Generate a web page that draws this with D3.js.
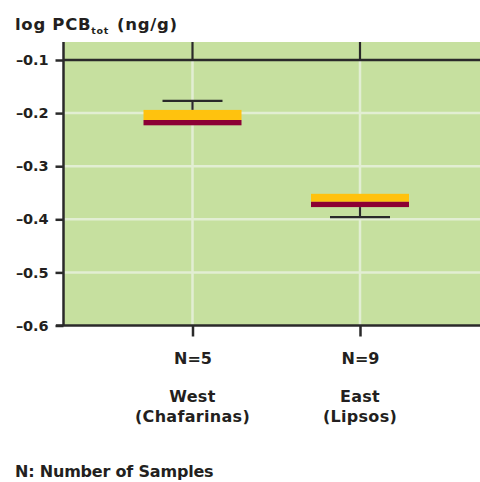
<!DOCTYPE html>
<html>
<head>
<meta charset="utf-8">
<script src="https://cdn.jsdelivr.net/npm/d3@7"></script>
<style>
  html, body { margin: 0; padding: 0; background: #fff; }
  svg { display: block; }
  text { font-family: "DejaVu Sans", sans-serif; font-weight: bold; fill: #231f20; }
</style>
</head>
<body>
<svg id="chart" width="480" height="482"></svg>
<script>
// ---- data ----
const categories = ["West", "East"];
const sampleLabels = ["N=5", "N=9"];
const regionLabels = ["(Chafarinas)", "(Lipsos)"];
const whiskerEnd = [-0.177, -0.396];   // end of the single whisker
const boxUpper   = [-0.194, -0.352];   // top of yellow part
const boxMedian  = [-0.213, -0.367];   // yellow/red boundary
const boxLower   = [-0.223, -0.377];   // bottom of red part
const yTicks = [-0.1, -0.2, -0.3, -0.4, -0.5, -0.6];
const yTickLabels = ["–0.1", "–0.2", "–0.3", "–0.4", "–0.5", "–0.6"];

(function () {
const svg = d3.select("#chart");
const pLeft = 64, pRight = 480, pTop = 42, pBottom = 325.5;
const FONT = "'DejaVu Sans', sans-serif";

const y = d3.scaleLinear().domain([-0.6, -0.1]).range([pBottom, 60]);
const x = d3.scalePoint().domain(categories).range([192.5, 360]);
const boxW = 98, whiskW = 60;

const green = "#c6e09f", grid = "#e2eed3", dark = "#2a2a2a";
const yellow = "#ffc20e", red = "#8c0034";

// background
svg.append("rect").attr("x", pLeft).attr("y", pTop)
  .attr("width", pRight - pLeft).attr("height", pBottom - pTop).attr("fill", green);

// white gridlines
svg.append("g").selectAll("line").data(yTicks.filter(t => t > -0.6 && t < -0.1)).join("line")
  .attr("x1", pLeft).attr("x2", pRight).attr("y1", d => y(d)).attr("y2", d => y(d))
  .attr("stroke", grid).attr("stroke-width", 2.5);
svg.append("g").selectAll("line").data(categories).join("line")
  .attr("x1", d => x(d)).attr("x2", d => x(d)).attr("y1", y(-0.1)).attr("y2", pBottom)
  .attr("stroke", grid).attr("stroke-width", 2.5);

// dark top stubs above -0.1
svg.append("g").selectAll("line").data(categories).join("line")
  .attr("x1", d => x(d)).attr("x2", d => x(d)).attr("y1", pTop).attr("y2", y(-0.1))
  .attr("stroke", dark).attr("stroke-width", 2.2);

// -0.1 dark line across
svg.append("line").attr("x1", pLeft).attr("x2", pRight).attr("y1", y(-0.1)).attr("y2", y(-0.1))
  .attr("stroke", dark).attr("stroke-width", 2.5);

// Y axis
const yAxis = d3.axisLeft(y).tickValues(yTicks).tickFormat((d, i) => yTickLabels[i])
  .tickSize(8).tickPadding(7);
const gy = svg.append("g").attr("transform", `translate(${pLeft - 0.5},0)`).call(yAxis);
gy.select(".domain").attr("d", `M0,${pTop}V${pBottom}`).attr("stroke", dark).attr("stroke-width", 2.5);
gy.selectAll(".tick line").attr("stroke", dark).attr("stroke-width", 2.5);
gy.selectAll(".tick text").attr("font-size", 14.5).attr("font-weight", "bold")
  .attr("font-family", FONT).attr("fill", "#231f20").attr("letter-spacing", "-0.1");

// X axis
const xAxis = d3.axisBottom(x).tickSize(11).tickFormat((d, i) => sampleLabels[i]).tickPadding(0);
const gx = svg.append("g").attr("transform", `translate(0,${pBottom})`).call(xAxis);
gx.select(".domain").attr("d", `M${pLeft - 8},0H${pRight}`).attr("stroke", dark).attr("stroke-width", 2.5);
gx.selectAll(".tick line").attr("stroke", dark).attr("stroke-width", 2.5);
gx.selectAll(".tick text").attr("font-size", 16).attr("font-weight", "bold")
  .attr("font-family", FONT).attr("fill", "#231f20")
  .attr("y", 38.5).attr("dy", null);

// category labels
const lab = svg.append("g").selectAll("g").data(categories).join("g");
lab.append("text").attr("x", d => x(d)).attr("y", 402).attr("text-anchor", "middle")
  .attr("font-size", 16).attr("letter-spacing", "0.3").text(d => d);
lab.append("text").attr("x", d => x(d)).attr("y", 422).attr("text-anchor", "middle")
  .attr("font-size", 16).attr("letter-spacing", "0.3").text((d, i) => regionLabels[i]);

// whiskers
const wg = svg.append("g");
categories.forEach((c, i) => {
  const anchor = whiskerEnd[i] > boxUpper[i] ? boxUpper[i] : boxLower[i];
  wg.append("line").attr("x1", x(c)).attr("x2", x(c)).attr("y1", y(whiskerEnd[i])).attr("y2", y(anchor))
    .attr("stroke", dark).attr("stroke-width", 2.2);
  wg.append("line").attr("x1", x(c) - whiskW / 2).attr("x2", x(c) + whiskW / 2)
    .attr("y1", y(whiskerEnd[i])).attr("y2", y(whiskerEnd[i]))
    .attr("stroke", dark).attr("stroke-width", 2.2);
});

// boxes
const bg = svg.append("g");
bg.selectAll("rect.up").data(categories).join("rect").attr("class", "up")
  .attr("x", d => x(d) - boxW / 2).attr("width", boxW)
  .attr("y", (d, i) => y(boxUpper[i])).attr("height", (d, i) => y(boxMedian[i]) - y(boxUpper[i]))
  .attr("fill", yellow);
bg.selectAll("rect.lo").data(categories).join("rect").attr("class", "lo")
  .attr("x", d => x(d) - boxW / 2).attr("width", boxW)
  .attr("y", (d, i) => y(boxMedian[i])).attr("height", (d, i) => y(boxLower[i]) - y(boxMedian[i]))
  .attr("fill", red);

// titles
const t = svg.append("text").attr("x", 15).attr("y", 30).attr("font-size", 16.5).attr("letter-spacing", "0.7");
t.append("tspan").text("log PCB");
t.append("tspan").attr("font-size", 9.5).attr("dy", 4).text("tot");
t.append("tspan").attr("dy", -4).attr("dx", 8).text("(ng/g)");

svg.append("text").attr("x", 15).attr("y", 477).attr("font-size", 16).attr("letter-spacing", "-0.2")
  .text("N: Number of Samples");
})();
</script>
</body>
</html>
